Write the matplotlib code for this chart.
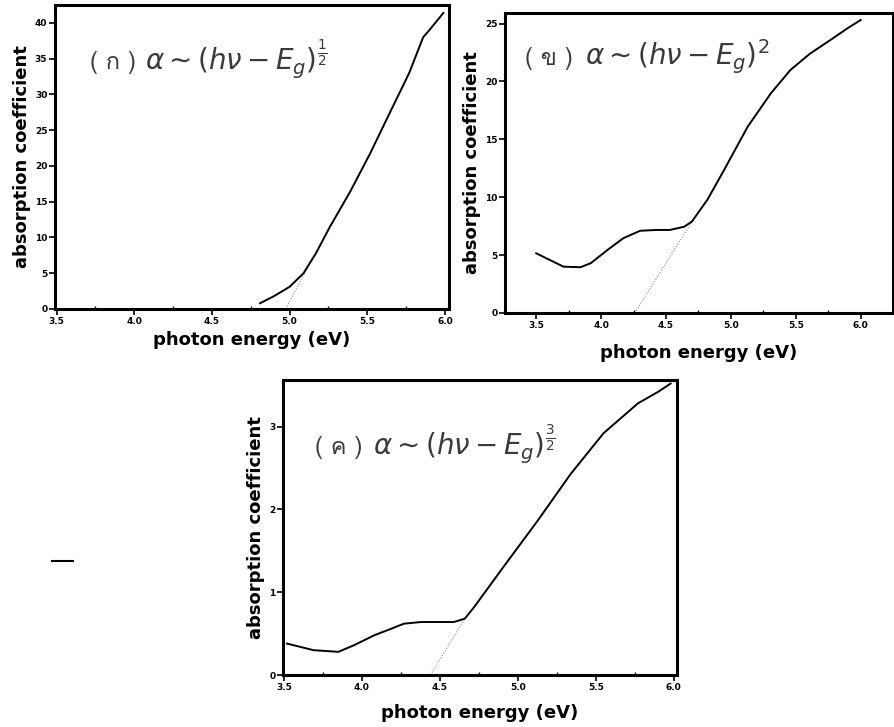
import matplotlib
matplotlib.use('Agg')
import matplotlib.pyplot as plt
import matplotlib.font_manager as fm
from matplotlib.ft2font import FT2Font
from matplotlib.lines import Line2D
from matplotlib.ticker import MultipleLocator, FormatStrFormatter

# ---- data ----
# (ก) exponent 1/2
e_a = [4.81, 4.90, 5.00, 5.09, 5.17, 5.26, 5.39, 5.52, 5.64, 5.77, 5.86, 5.90, 5.99]
a_a = [0.8, 1.8, 3.1, 5.0, 7.8, 11.5, 16.4, 21.8, 27.2, 33.0, 38.0, 39.0, 41.4]
tan_a_e = [4.975, 5.14]
tan_a_y = [0.0, 6.8]

# (ข) exponent 2
e_b = [3.50, 3.71, 3.84, 3.92, 4.05, 4.17, 4.30, 4.43, 4.53, 4.64, 4.70,
       4.82, 4.89, 4.95, 5.13, 5.31, 5.46, 5.61, 5.77, 5.90, 6.00]
a_b = [5.15, 4.0, 3.95, 4.3, 5.45, 6.45, 7.1, 7.17, 7.17, 7.45, 7.9,
       9.8, 11.2, 12.4, 16.1, 19.0, 21.0, 22.4, 23.6, 24.6, 25.3]
tan_b_e = [4.26, 4.70]
tan_b_y = [0.0, 7.9]

# (ค) exponent 3/2
e_c = [3.52, 3.69, 3.85, 3.95, 4.08, 4.19, 4.27, 4.38, 4.59, 4.66, 4.72,
       4.91, 5.13, 5.34, 5.55, 5.77, 5.90, 5.98]
a_c = [0.38, 0.30, 0.28, 0.36, 0.48, 0.56, 0.62, 0.64, 0.64, 0.68, 0.82,
       1.31, 1.87, 2.43, 2.92, 3.28, 3.42, 3.52]
tan_c_e = [4.44, 4.66]
tan_c_y = [0.0, 0.68]

panel_tags = ['( ก )', '( ข )', '( ค )']
exponents = [r'\frac{1}{2}', r'2', r'\frac{3}{2}']
y_steps = [5, 5, 1]
y_tops = [42.5, 25.9, 3.56]
x_ranges = [(3.49, 6.025), (3.26, 6.25), (3.495, 6.02)]


def find_thai_font():
    """หาฟอนต์ที่มีอักษรไทย"""
    for f in fm.fontManager.ttflist:
        try:
            if 0x0E01 in FT2Font(f.fname).get_charmap():
                return f.name
        except Exception:
            pass
    return None


thai_font = find_thai_font()
tag_family = [thai_font, 'DejaVu Sans'] if thai_font else ['DejaVu Sans']
plt.rcParams['mathtext.fontset'] = 'dejavusans'

fig = plt.figure(figsize=(8.94, 7.27), dpi=100)
rects = [
    [0.0615, 0.575, 0.4405, 0.418],
    [0.565, 0.5695, 0.434, 0.4125],
    [0.3166, 0.0715, 0.4405, 0.4055],
]
series = [(e_a, a_a, tan_a_e, tan_a_y), (e_b, a_b, tan_b_e, tan_b_y),
          (e_c, a_c, tan_c_e, tan_c_y)]
tag_pos = [(0.089, 0.79), (0.05, 0.827), (0.081, 0.75)]
formula_x = [0.228, 0.206, 0.228]
xlabel_pad = [4, 10, 9]

for i, rect in enumerate(rects):
    ax = fig.add_axes(rect)
    e, a, te, ty = series[i]
    ax.plot(te, ty, color='#8a8aa8', linewidth=0.8, linestyle=(0, (1, 1.5)))
    ax.plot(e, a, color='black', linewidth=1.4)
    ax.set_xlim(*x_ranges[i])
    ax.set_ylim(0, y_tops[i])
    ax.xaxis.set_major_locator(MultipleLocator(0.5))
    ax.xaxis.set_minor_locator(MultipleLocator(0.25))
    ax.xaxis.set_major_formatter(FormatStrFormatter('%.1f'))
    ax.yaxis.set_major_locator(MultipleLocator(y_steps[i]))
    ax.tick_params(axis='both', which='major', direction='out', length=4,
                   width=1.2, labelsize=6.5, pad=1.5)
    ax.tick_params(axis='x', which='minor', direction='in', length=2, width=1)
    for lab in ax.get_xticklabels() + ax.get_yticklabels():
        lab.set_fontweight('bold')
    for sp in ax.spines.values():
        sp.set_linewidth(2.2)
    ax.set_xlabel('photon energy (eV)', fontsize=13, fontweight='bold',
                  labelpad=xlabel_pad[i])
    ax.set_ylabel('absorption coefficient', fontsize=13, fontweight='bold', labelpad=3)

    tx, ty_ = tag_pos[i]
    ax.text(tx, ty_, panel_tags[i], transform=ax.transAxes, fontsize=17,
            family=tag_family, color='#3a3a3a', va='baseline')
    ax.text(formula_x[i], ty_, r'$\alpha \sim (h\nu - E_g)^{%s}$' % exponents[i],
            transform=ax.transAxes, fontsize=20, color='#3a3a3a', va='baseline')

# stray dash at left of the scanned page
fig.add_artist(Line2D([0.058, 0.082], [0.229, 0.229], color='black', linewidth=1.5))

fig.savefig('out.png', dpi=100, facecolor='white')
